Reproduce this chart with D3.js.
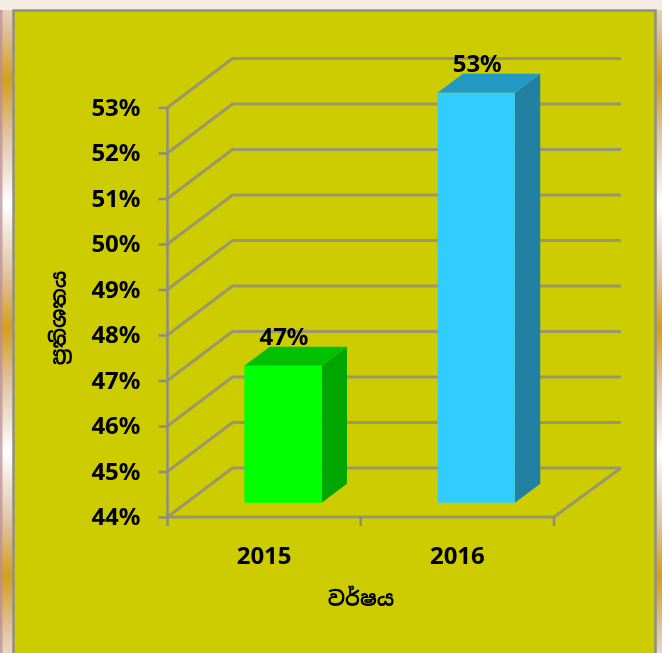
<!DOCTYPE html>
<html><head><meta charset="utf-8"><style>html,body{margin:0;padding:0;background:#fff;overflow:hidden}svg{display:block}</style>
<script src="https://cdn.jsdelivr.net/npm/d3@7"></script></head><body><svg id="c" width="662" height="653"></svg>
<script>
const categories=["2015","2016"];
const seriesValues=[47,53];
const tickValues=[44,45,46,47,48,49,50,51,52,53];
const frontColors=["#00ff00","#33ccff"];
const sideColors=["#00a600","#2080a3"];
const topColors=["#00c000","#2499c4"];
const xTitle="වර්ෂය";
const yTitle="ප්‍රතිශතය";
const FONT="'Noto Sans','Open Sans',sans-serif";
const svg=d3.select("#c");
const edge=[[0,"#ffffff"],[.12,"#f0e4d8"],[.3,"#dfc19a"],[.5,"#d39e1c"],[.7,"#dfc19a"],[.88,"#f0e4d8"],[1,"#ffffff"]];
const defs=svg.append("defs");
const g=defs.append("linearGradient").attr("id","edge").attr("gradientUnits","userSpaceOnUse")
 .attr("x1",0).attr("x2",0).attr("y1",-44).attr("y2",204).attr("spreadMethod","repeat");
edge.forEach(e=>g.append("stop").attr("offset",e[0]).attr("stop-color",e[1]));
defs.append("filter").attr("id","soft").append("feGaussianBlur").attr("stdDeviation",0.45);
svg.append("rect").attr("width",662).attr("height",653).attr("fill","url(#edge)");
svg.append("rect").attr("width",662).attr("height",10).attr("fill","#f5ece3");
svg.append("rect").attr("x",0).attr("y",10).attr("width",2.5).attr("height",643).attr("fill","#b98a94").attr("opacity",.7);
svg.append("rect").attr("x",13.5).attr("y",10.5).attr("width",642).attr("height",650).attr("fill","#cccc00").attr("stroke","#8f8f87").attr("stroke-width",2.5);

const root=svg.append("g").attr("filter","url(#soft)");
const y=d3.scaleLinear().domain([44,53]).range([517,107.5]);
const x=d3.scaleBand().domain(categories).range([167.5,554]);
const dx=65,dy=-49;
const grid="#98986a",axisC="#8c8c80";
const gg=root.append("g").attr("fill","none").attr("stroke",grid).attr("stroke-width",3);
tickValues.forEach(t=>{
 gg.append("path").attr("d",d3.line()([[x.range()[0],y(t)],[x.range()[0]+dx,y(t)+dy],[x.range()[1]+dx+2,y(t)+dy]]));
});
gg.append("path").attr("d",d3.line()([[x.range()[0],y(44)],[x.range()[1],y(44)],[x.range()[1]+dx+2,y(44)+dy]]));
const yAxis=d3.axisLeft(y).tickValues(tickValues).tickFormat(d=>d+"%").tickSize(9).tickPadding(18);
const ya=root.append("g").attr("transform","translate(167.5,0)").call(yAxis);
ya.select(".domain").attr("stroke",axisC).attr("stroke-width",2.5).attr("d",`M0,${y(53)}V${y(44)}`);
ya.selectAll("line").attr("stroke",axisC).attr("stroke-width",2.5);
ya.selectAll("text").attr("fill","#000").style("font",`700 24px ${FONT}`).attr("dy",".32em");
const ticksX=[...categories.map(c=>x(c)),x.range()[1]];
root.append("g").selectAll("line").data(ticksX).join("line").attr("x1",d=>d).attr("x2",d=>d).attr("y1",517).attr("y2",526).attr("stroke",axisC).attr("stroke-width",2.5);
root.append("g").selectAll("text").data(categories).join("text").attr("x",d=>x(d)+x.bandwidth()/2).attr("y",564)
 .attr("text-anchor","middle").style("font",`700 24px ${FONT}`).attr("fill","#000").text(d=>d);

const fz=0.29,dz=0.39,bw=0.4*x.bandwidth();
const bars=root.append("g").selectAll("g").data(categories).join("g");
bars.each(function(c,i){
 const s=d3.select(this),v=seriesValues[i];
 const x0=x(c)+x.bandwidth()/2-bw/2+fz*dx, x1=x0+bw;
 const yt=y(v)+fz*dy-0.5, yb=y(44)+fz*dy;
 const ox=dz*dx,oy=dz*dy;
 const l=d3.line();
 s.append("path").attr("d",l([[x1,yt],[x1+ox,yt+oy],[x1+ox,yb+oy],[x1,yb]])+"Z").attr("fill",sideColors[i]);
 s.append("path").attr("d",l([[x0,yt],[x0+ox,yt+oy],[x1+ox,yt+oy],[x1,yt]])+"Z").attr("fill",topColors[i]);
 s.append("rect").attr("x",x0).attr("y",yt).attr("width",bw).attr("height",yb-yt).attr("fill",frontColors[i]);
 s.append("text").attr("x",x0+bw/2+1).attr("y",yt-20.5).attr("text-anchor","middle").style("font",`700 24px ${FONT}`).attr("fill","#000").text(v+"%");
});
const SIN="'Noto Sans Sinhala','Noto Sans','DejaVu Sans',sans-serif";
root.append("text").attr("x",361).attr("y",606).attr("text-anchor","middle").style("font",`700 20.5px ${SIN}`).attr("fill","#000").text(xTitle);
root.append("text").attr("transform","translate(66,318) rotate(-90)").attr("text-anchor","middle").style("font",`700 20.5px ${SIN}`).attr("fill","#000").text(yTitle);
</script></body></html>
